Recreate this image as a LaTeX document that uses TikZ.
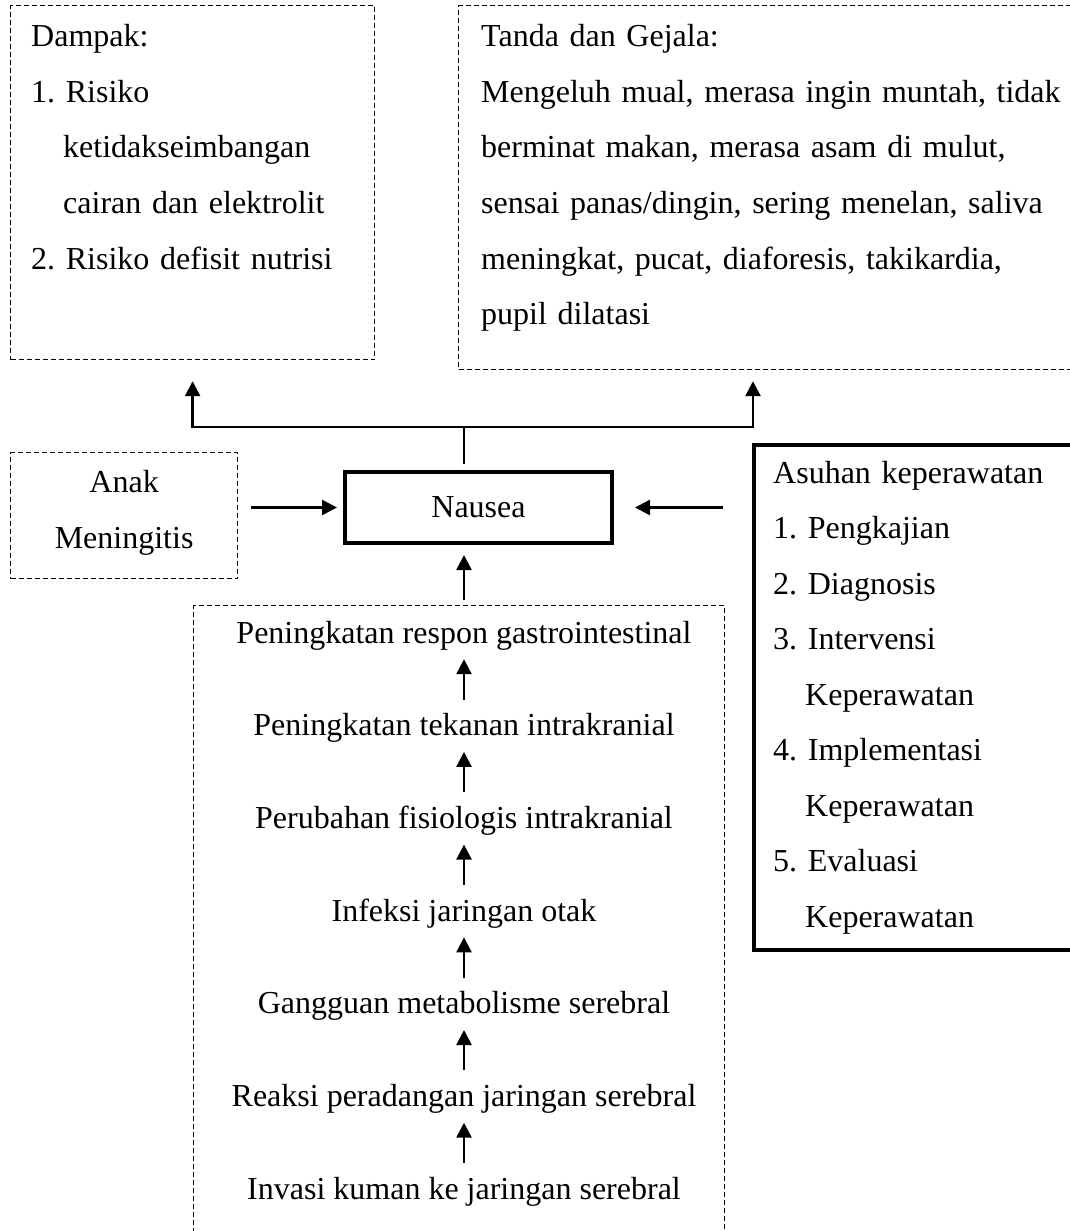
\documentclass[tikz,border=0pt]{standalone}
\usepackage{fontspec}
\setmainfont{Liberation Serif}
\frenchspacing
\usetikzlibrary{positioning, arrows.meta}

\tikzset{
  dashbox/.style={draw, line width=1.2pt, dash pattern=on 5pt off 3pt, inner sep=0pt},
  mainbox/.style={draw, line width=4pt, inner sep=0pt},
  txt/.style={font=\fontsize{32}{55.5}\selectfont, inner sep=0pt, align=left},
  alur/.style={font=\fontsize{32}{55.5}\selectfont, inner sep=0pt, text height=22pt, text depth=7pt},
  arr/.style={-{Triangle[length=15pt,width=15pt]}, line width=2.6pt},
  arrdua/.style={{Triangle[length=15pt,width=15pt]}-{Triangle[length=15pt,width=15pt]}, line width=2.6pt},
}

\begin{document}
\begin{tikzpicture}[x=1pt,y=-1pt,node distance=63.3pt]
  \useasboundingbox (0,0) rectangle (1069,1231);

  % frames
  \node[dashbox, minimum width=364pt, minimum height=354pt, anchor=north west] (dampak) at (10,5) {};
  \node[dashbox, minimum width=640pt, minimum height=364pt, anchor=north west] (tanda) at (458,5) {};
  \node[dashbox, minimum width=227pt, minimum height=126pt, anchor=north west] (anak) at (10,452) {};
  \node[mainbox, minimum width=267pt, minimum height=71pt, font=\fontsize{32}{55.5}\selectfont] (nausea) at (478.5,507.5) {Nausea};
  \node[mainbox, minimum width=400pt, minimum height=505pt, anchor=north west] (asuhan) at (752,443) {};
  \node[dashbox, minimum width=531pt, minimum height=700pt, anchor=north west] (sebab) at (193,605) {};

  % texts in the frames
  \node[txt, align=center] (anaktxt) at ([yshift=3pt]anak.center) {Anak\\Meningitis};
  \node[txt, text width=340pt, anchor=base west] (dampaktxt) at ([xshift=21pt,yshift=-42pt]dampak.north west)
    {Dampak:\\1. Risiko\\\hspace*{32pt}ketidakseimbangan\\\hspace*{32pt}cairan dan elektrolit\\2. Risiko defisit nutrisi};
  \node[txt, text width=582pt, anchor=base west] (tandatxt) at ([xshift=23pt,yshift=-42pt]tanda.north west)
    {Tanda dan Gejala:\\
     \makebox[582pt][s]{Mengeluh mual, merasa ingin muntah, tidak}\\
     \makebox[582pt][s]{berminat makan, merasa asam di mulut,}\\
     \makebox[582pt][s]{sensai panas/dingin, sering menelan, saliva}\\
     \makebox[582pt][s]{meningkat, pucat, diaforesis, takikardia,}\\
     pupil dilatasi};
  \node[txt, text width=300pt, anchor=base west] (asuhantxt) at ([xshift=21pt,yshift=-40pt]asuhan.north west)
    {Asuhan keperawatan\\1. Pengkajian\\2. Diagnosis\\3. Intervensi\\\hspace*{32pt}Keperawatan\\4. Implementasi\\\hspace*{32pt}Keperawatan\\5. Evaluasi\\\hspace*{32pt}Keperawatan};

  % chain of causes
  \node[alur, anchor=base] (c1) at (464,643) {Peningkatan respon gastrointestinal};
  \node[alur, below=of c1] (c2) {Peningkatan tekanan intrakranial};
  \node[alur, below=of c2] (c3) {Perubahan fisiologis intrakranial};
  \node[alur, below=of c3] (c4) {Infeksi jaringan otak};
  \node[alur, below=of c4] (c5) {Gangguan metabolisme serebral};
  \node[alur, below=of c5] (c6) {Reaksi peradangan jaringan serebral};
  \node[alur, below=of c6] (c7) {Invasi kuman ke jaringan serebral};

  \foreach \i/\j in {2/1,3/2,4/3,5/4,6/5,7/6}
    \draw[arr, shorten <=14pt, shorten >=9pt] (c\i) -- (c\j);

  % connectors round Nausea
  \coordinate (split) at (464,427);
  \coordinate (kiri) at (dampak.south |- split);
  \coordinate (kanan) at (753,427);
  \draw[line width=2.6pt, shorten <=6pt] (nausea.north -| split) -- (split);
  \draw[arrdua] ([yshift=-21pt]dampak.south) -- (kiri) -- (kanan) -- ([yshift=-11pt]tanda.south -| kanan);
  \draw[arr, shorten <=5pt, shorten >=10pt] (sebab.north -| c1) -- (nausea.south -| c1);
  \draw[arr, shorten <=13pt, shorten >=6pt] (anak.east |- nausea) -- (nausea.west);
  \draw[arr, shorten <=29pt, shorten >=21pt] (asuhan.west |- nausea) -- (nausea.east);

\end{tikzpicture}
\end{document}
